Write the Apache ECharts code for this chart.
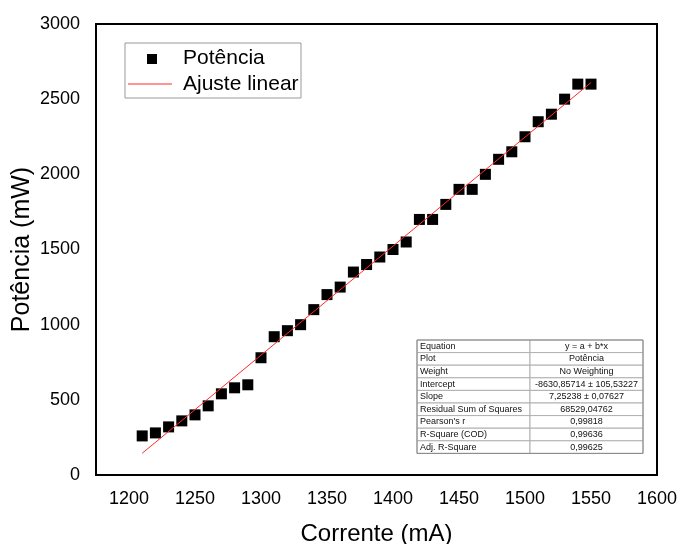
<!DOCTYPE html>
<html>
<head>
<meta charset="utf-8">
<script src="https://cdn.jsdelivr.net/npm/echarts@6/dist/echarts.min.js"></script>
<style>
  html, body { margin: 0; padding: 0; background: #fff; }
  #chart { width: 679px; height: 544px; }
</style>
</head>
<body>
<div id="chart"></div>
<script>
// Measured current (mA) and optical power (mW)
const corrente = [1210, 1220, 1230, 1240, 1250, 1260, 1270, 1280, 1290, 1300,
                  1310, 1320, 1330, 1340, 1350, 1360, 1370, 1380, 1390, 1400,
                  1410, 1420, 1430, 1440, 1450, 1460, 1470, 1480, 1490, 1500,
                  1510, 1520, 1530, 1540, 1550];
const potencia = [260, 280, 320, 360, 400, 460, 540, 580, 600, 780,
                  920, 960, 1000, 1100, 1200, 1250, 1350, 1400, 1450, 1500,
                  1550, 1700, 1700, 1800, 1900, 1900, 2000, 2100, 2150, 2250,
                  2350, 2400, 2500, 2600, 2600];

// Linear fit parameters (y = a + b*x)
const intercept = -8630.85714;
const slope = 7.25238;

const xTicks = [1200, 1250, 1300, 1350, 1400, 1450, 1500, 1550, 1600];

// Fit statistics table
const tableLabels = ['Equation', 'Plot', 'Weight', 'Intercept', 'Slope',
  'Residual Sum of Squares', "Pearson's r", 'R-Square (COD)', 'Adj. R-Square'];
const tableValues = ['y = a + b*x', 'Potência', 'No Weighting',
  '-8630,85714 ± 105,53227', '7,25238 ± 0,07627', '68529,04762',
  '0,99818', '0,99636', '0,99625'];

const legendNames = ['Potência', 'Ajuste linear'];

const FONT = '"Liberation Sans", Arial, sans-serif';
const FIT_COLOR = '#ff2a2a';

const xFirst = corrente[0], xLast = corrente[corrente.length - 1];
const fitLine = [[xFirst, intercept + slope * xFirst], [xLast, intercept + slope * xLast]];

// Statistics table drawn as graphic elements
function buildTable() {
  const x0 = 417, y0 = 340, w0 = 113, w1 = 113, rowH = 12.6;
  const children = [];
  tableLabels.forEach((lab, i) => {
    const y = y0 + i * rowH;
    children.push({ type: 'rect', shape: { x: x0, y: y, width: w0, height: rowH },
      style: { fill: '#fff', stroke: '#b0b0b0', lineWidth: 1 } });
    children.push({ type: 'rect', shape: { x: x0 + w0, y: y, width: w1, height: rowH },
      style: { fill: '#fff', stroke: '#b0b0b0', lineWidth: 1 } });
    children.push({ type: 'text', x: x0 + 3, y: y + rowH / 2,
      style: { text: lab, font: '9px ' + FONT, fill: '#111', verticalAlign: 'middle' } });
    children.push({ type: 'text', x: x0 + w0 + w1 / 2, y: y + rowH / 2,
      style: { text: tableValues[i], font: '9px ' + FONT, fill: '#111',
               align: 'center', verticalAlign: 'middle' } });
  });
  children.push({ type: 'rect', shape: { x: x0, y: y0, width: w0 + w1, height: rowH * tableLabels.length },
    style: { fill: 'none', stroke: '#888', lineWidth: 1 } });
  return children;
}

// Legend box with a square marker and a line sample
function buildLegend() {
  const bx = 125, by = 43, bw = 176, bh = 55;
  return [
    { type: 'rect', shape: { x: bx, y: by, width: bw, height: bh },
      style: { fill: '#fff', stroke: '#999', lineWidth: 1 }, z: 10 },
    { type: 'rect', shape: { x: 147, y: 54, width: 10, height: 10 },
      style: { fill: '#000' }, z: 11 },
    { type: 'text', x: 183, y: 58,
      style: { text: legendNames[0], font: '21px ' + FONT, fill: '#000', verticalAlign: 'middle' }, z: 11 },
    { type: 'line', shape: { x1: 128, y1: 84, x2: 172, y2: 84 },
      style: { stroke: FIT_COLOR, lineWidth: 1 }, z: 11 },
    { type: 'text', x: 183, y: 84,
      style: { text: legendNames[1], font: '21px ' + FONT, fill: '#000', verticalAlign: 'middle' }, z: 11 }
  ];
}

const chart = echarts.init(document.getElementById('chart'), null, { renderer: 'canvas' });
chart.setOption({
  backgroundColor: '#fff',
  animation: false,
  textStyle: { fontFamily: FONT },
  grid: { left: 96, right: 22, top: 24, bottom: 69, show: true,
          outerBoundsMode: 'none', containLabel: false,
          borderColor: '#000', borderWidth: 2, backgroundColor: 'transparent' },
  xAxis: {
    type: 'value', min: 1175, max: 1600,
    name: 'Corrente (mA)', nameLocation: 'middle', nameGap: 47, nameMoveOverlap: false,
    nameTextStyle: { fontSize: 24, color: '#000', fontFamily: FONT },
    axisLine: { show: true, lineStyle: { color: '#000', width: 2 } },
    axisTick: { show: false },
    splitLine: { show: false },
    axisLabel: { customValues: xTicks, fontSize: 18, color: '#000', margin: 15,
                 fontFamily: FONT, formatter: v => String(v) }
  },
  yAxis: {
    type: 'value', min: 0, max: 3000, interval: 500,
    name: 'Potência (mW)', nameLocation: 'middle', nameGap: 61, nameMoveOverlap: false,
    nameTextStyle: { fontSize: 25, color: '#000', fontFamily: FONT },
    axisLine: { show: true, lineStyle: { color: '#000', width: 2 } },
    axisTick: { show: false },
    splitLine: { show: false },
    axisLabel: { fontSize: 18, color: '#000', margin: 16, fontFamily: FONT,
                 formatter: v => String(v) }
  },
  series: [
    {
      name: 'Potência', type: 'scatter', symbol: 'rect', symbolSize: 11,
      itemStyle: { color: '#000', opacity: 1 },
      data: corrente.map((c, i) => [c, potencia[i]]), z: 3
    },
    {
      name: 'Ajuste linear', type: 'line', symbol: 'none',
      lineStyle: { color: FIT_COLOR, width: 1 },
      data: fitLine, z: 4
    }
  ],
  graphic: buildTable().concat(buildLegend())
});
</script>
</body>
</html>
